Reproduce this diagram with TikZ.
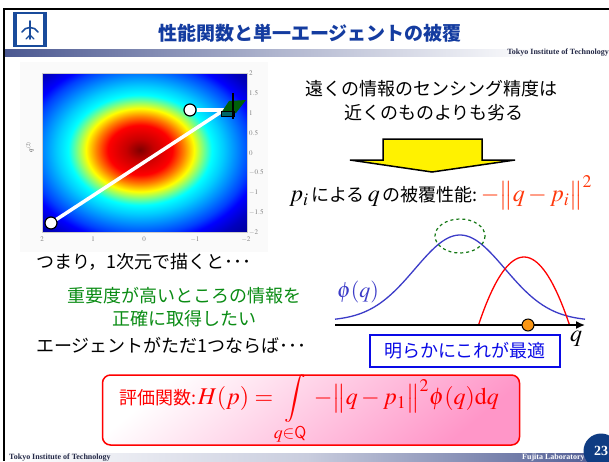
\documentclass[tikz,border=0pt]{standalone}
\usepackage{mathptmx}
\usepackage{fontspec}
\setmainfont{Liberation Serif}
\newfontfamily\jpfont{Noto Sans CJK JP}
\usepackage{xcolor}
\usepackage{tikz}
\usetikzlibrary{arrows.meta,positioning,shapes.geometric}

\definecolor{titleblue}{RGB}{20,60,160}
\definecolor{logoblue}{RGB}{25,75,155}
\definecolor{barblue}{RGB}{75,88,145}
\definecolor{footblue}{RGB}{35,40,70}
\definecolor{pageblue}{RGB}{15,60,130}
\definecolor{impgreen}{RGB}{10,140,20}
\definecolor{phiblue}{RGB}{60,60,200}
\definecolor{optblue}{RGB}{10,10,230}
\definecolor{dkgreen}{RGB}{20,120,20}
\definecolor{dotorange}{RGB}{250,150,20}
\definecolor{hotred}{RGB}{255,55,10}
\definecolor{evalpink}{RGB}{255,150,200}
\definecolor{camgreen}{RGB}{0,95,10}

% jet colour map of the gaussian weight
\pgfdeclareradialshading{jetblob}{\pgfpoint{0bp}{0bp}}{%
  rgb(0bp)=(0.5,0,0); rgb(1.35bp)=(0.78,0,0); rgb(3.1bp)=(1,0,0);
  rgb(4.2bp)=(1,0.5,0); rgb(5.2bp)=(1,1,0); rgb(6.05bp)=(0.5,1,0.5);
  rgb(6.9bp)=(0,1,1); rgb(8bp)=(0,0.8,1); rgb(9.2bp)=(0,0.55,1);
  rgb(10.6bp)=(0,0.25,1); rgb(11.5bp)=(0,0,1); rgb(13bp)=(0,0,0.75);
  rgb(15bp)=(0,0,0.55); rgb(50bp)=(0,0,0.55)}

\newcommand{\lgmath}[1]{{\fontsize{24}{26}\selectfont$#1$}}

\begin{document}
\begin{tikzpicture}[x=1pt, y=-1pt,
  jp/.style={font=\jpfont\fontsize{18}{23}\selectfont, inner sep=0pt},
  agent/.style={circle, draw, fill=white, line width=1.2pt, minimum size=12pt, inner sep=0pt},
  tick/.style={font=\sffamily\fontsize{7}{7}\selectfont, text=gray, inner sep=1pt},
  footer/.style={font=\bfseries\fontsize{8}{8}\selectfont, text=footblue, inner sep=0pt},
  optbox/.style={draw=optblue, line width=1.5pt, fill=white, text=optblue, minimum width=190pt, minimum height=32pt},
  evalbox/.style={draw=red, line width=1.5pt, rounded corners=8pt, minimum width=417pt, minimum height=70pt},
  arr/.style={-{Latex[length=9pt,width=8pt]}, line width=1.5pt}
]
\useasboundingbox (0,0) rectangle (609,461);
\fill[white] (0,0) rectangle (609,461);

% slide frame, bars
\draw[line width=2pt] (3,9) -- (609,9);
\draw[line width=2pt] (4,9) -- (4,461);
\shade[left color=barblue, right color=white, middle color=barblue!45] (5,49) rectangle (540,56);
\shade[left color=white, right color=barblue, middle color=barblue!30] (5,453) rectangle (609,461);

% logo
\fill[logoblue] (13,12) rectangle (47,47);
\fill[white] (17,14) rectangle (43,45);
\draw[logoblue, line width=1.6pt, line cap=round] (30,21) -- (30,39);
\draw[logoblue, line width=1.6pt, line cap=round] (22,32) .. controls (25,26) and (35,26) .. (38,32);
\draw[logoblue, line width=1.2pt, line cap=round] (26,39) -- (30,35) -- (34,39);

\node[font=\jpfont\bfseries\fontsize{19}{22}\selectfont, text=titleblue] (title) at (310,33) {性能関数と単一エージェントの被覆};
\node[footer, anchor=east] (insttop) at (609,53) {Tokyo Institute of Technology};

% gaussian field in the plane
\fill[gray!4] (20,62) rectangle (268,252);
\begin{scope}
  \clip (42,73) rectangle (247,232);
  \shade[shading=jetblob] (140,150) ellipse [x radius=260, y radius=200];
\end{scope}
\draw[gray!40, line width=0.4pt] (42,73) rectangle (247,232);
\foreach \v/\yy in {2/73, 1.5/93, 1/113, 0.5/133, 0/153, -0.5/172, -1/192, -1.5/212, -2/232}
  \node[tick, anchor=west] at (248,\yy) {$\v$};
\foreach \v/\xx in {2/42, 1/93, 0/144, -1/195, -2/246}
  \node[tick] at (\xx,239) {$\v$};
\node[tick, rotate=90, text=gray!70!black] (ylab) at (30,147) {$q^{(2)}$};

\coordinate (cam) at (224,110);
\node[agent] (pA) at (51,223) {};
\node[agent] (pB) at (190,110) {};
\draw[white, line width=3.5pt] (pA) -- (cam);
\draw[white, line width=3.5pt] (pB) -- (cam);
\fill[camgreen] (221,113) -- (229,101) -- (246,100) -- (236,113) -- cycle;
\filldraw[fill=teal!80!black, draw=black, line width=0.6pt] (221,111) rectangle (234,116);
\draw[line width=2pt] (233,93) -- (233,119);

% sensing text and arrow
\node[jp] (far) at (431,89) {遠くの情報のセンシング精度は};
\node[jp] (near) at (434,113) {近くのものよりも劣る};
\filldraw[fill=yellow, draw=black, line width=1.5pt]
  (383,139) -- (482,139) -- (482,160) -- (515,160) -- (432,172) -- (350,160) -- (383,160) -- cycle;
\node[jp, anchor=west] (perf) at (289,193)
  {\lgmath{p_i}\,による\,\lgmath{q}\,の被覆性能:\,{\color{hotred}\lgmath{-\big\|q-p_i\big\|^{2}}}};

% left remarks
\node[jp, anchor=west] (oned) at (36,262) {つまり，1次元で描くと･･･};
\node[jp, text=impgreen, align=center] (want) at (184,307) {重要度が高いところの情報を\\正確に取得したい};
\node[jp, anchor=west] (single) at (36,345) {エージェントがただ1つならば･･･};

% one dimensional picture
\coordinate (q0) at (335,325);
\coordinate (q1) at (585,325);
\draw[phiblue, line width=1.3pt] plot[domain=335:585, samples=90, smooth] (\x, {321-86*exp(-0.5*((\x-460)/45)^2)});
\draw[red, line width=1.3pt] plot[domain=478.5:569.5, samples=40, smooth] (\x, {257+68*((\x-524)/45.5)^2});
\draw[arr] (q0) -- (q1);
\draw[dkgreen, dashed, line width=1.2pt] (460,236) ellipse [x radius=25, y radius=17];
\node[circle, draw, fill=dotorange, line width=1pt, minimum size=12pt, inner sep=0pt] (best) at (528,325) {};
\node[text=phiblue, font=\fontsize{22}{24}\selectfont] (phi) at (358,292) {$\phi(q)$};
\node (qlab) at (576,339) {\lgmath{q}};
\node[jp, optbox] (opt) at (465,351) {明らかにこれが最適};

% cost functional
\node[evalbox, top color=white, bottom color=evalpink, shading angle=40] (eval) at (311,410) {};
\node[text=red] (evaltxt) at (309,410)
  {{\jpfont\fontsize{18}{20}\selectfont 評価関数:}\,\lgmath{\displaystyle H(p)=\int\limits_{q\in\mathsf{Q}}-\big\|q-p_1\big\|^2\phi(q)\mathrm{d}q}};

% footer
\node[footer, anchor=north west] (instbot) at (9,454) {Tokyo Institute of Technology};
\node[footer, anchor=north west, text=white] (lab) at (522,454) {Fujita Laboratory};
\node[circle, fill=pageblue, minimum size=35pt, inner sep=0pt, text=white, font=\bfseries\fontsize{14}{14}\selectfont] (page) at (601,451) {23};
\end{tikzpicture}
\end{document}
